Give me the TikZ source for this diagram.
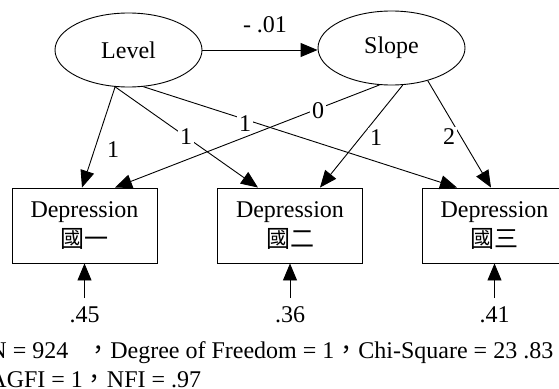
\documentclass[tikz,border=0pt]{standalone}
\usepackage{fontspec}
\setmainfont{Liberation Serif}
\newfontfamily\cjk{Noto Sans CJK TC}
\usetikzlibrary{arrows.meta,shapes.geometric}
\begin{document}
\begin{tikzpicture}[x=1pt,y=-1pt, font=\fontsize{24}{30}\selectfont, line width=0.9pt,
 latent/.style={ellipse, draw, minimum width=147pt, minimum height=74pt, inner sep=0pt},
 obs/.style={rectangle, draw, minimum width=145pt, minimum height=75pt, align=center, inner sep=0pt},
 lbl/.style={fill=white, inner sep=2pt},
 arr/.style={-{Triangle[length=17pt,width=14pt]}}]
\useasboundingbox (0,0) rectangle (559,388);
\node[latent] (L) at (128.5,50) {Level};
\node[latent] (S) at (391.5,48) {Slope};
\node[obs] (B1) at (84.5,225.5) {Depression\\{\cjk 國一}};
\node[obs] (B2) at (290,225.5) {Depression\\{\cjk 國二}};
\node[obs] (B3) at (494.5,225.5) {Depression\\{\cjk 國三}};
% Level -> Slope
\draw[arr] (L.east) -- (L.east -| S.west);
\node[lbl] (lls) at (265,25) {- .01};
% Level loadings
\draw[arr] (L.250) -- ([xshift=-2.5pt]B1.north);
\node[inner sep=1pt] (l1) at (113,150) {1};
\draw[arr] (L.250) -- ([xshift=-32pt]B2.north);
\draw[arr] (L.292) -- ([xshift=-37.5pt]B3.north);
\node[lbl] (l3) at (245,124) {1};
% Slope loadings
\draw[arr] (S.252.7) -- ([xshift=30.5pt]B1.north);
\node[lbl] (l2) at (186,137) {1};
\node[lbl] (s1) at (318,111) {0};
\draw[arr] (S.287.3) -- ([xshift=30pt]B2.north);
\node[lbl] (s2) at (376,138) {1};
\draw[arr] (S.318) -- ([xshift=-3.5pt]B3.north);
\node[lbl] (s3) at (449,137) {2};
% errors
\coordinate (e1) at (84.5,298);
\coordinate (e2) at (290,298);
\coordinate (e3) at (494.5,298);
\draw[arr] (e1) -- (B1.south);
\draw[arr] (e2) -- (B2.south);
\draw[arr] (e3) -- (B3.south);
\node (r1) at (84.5,315) {.45};
\node (r2) at (290,315) {.36};
\node (r3) at (494.5,315) {.41};
% fit
\node[anchor=base west, inner sep=0pt] (f1) at (-11,358) {N = 924 \ \ {\cjk ，}Degree of Freedom = 1{\cjk ，}Chi-Square = 23 .83};
\node[anchor=base west, inner sep=0pt] (f2) at (-11,387) {AGFI = 1{\cjk ，}NFI = .97};
\end{tikzpicture}
\end{document}
